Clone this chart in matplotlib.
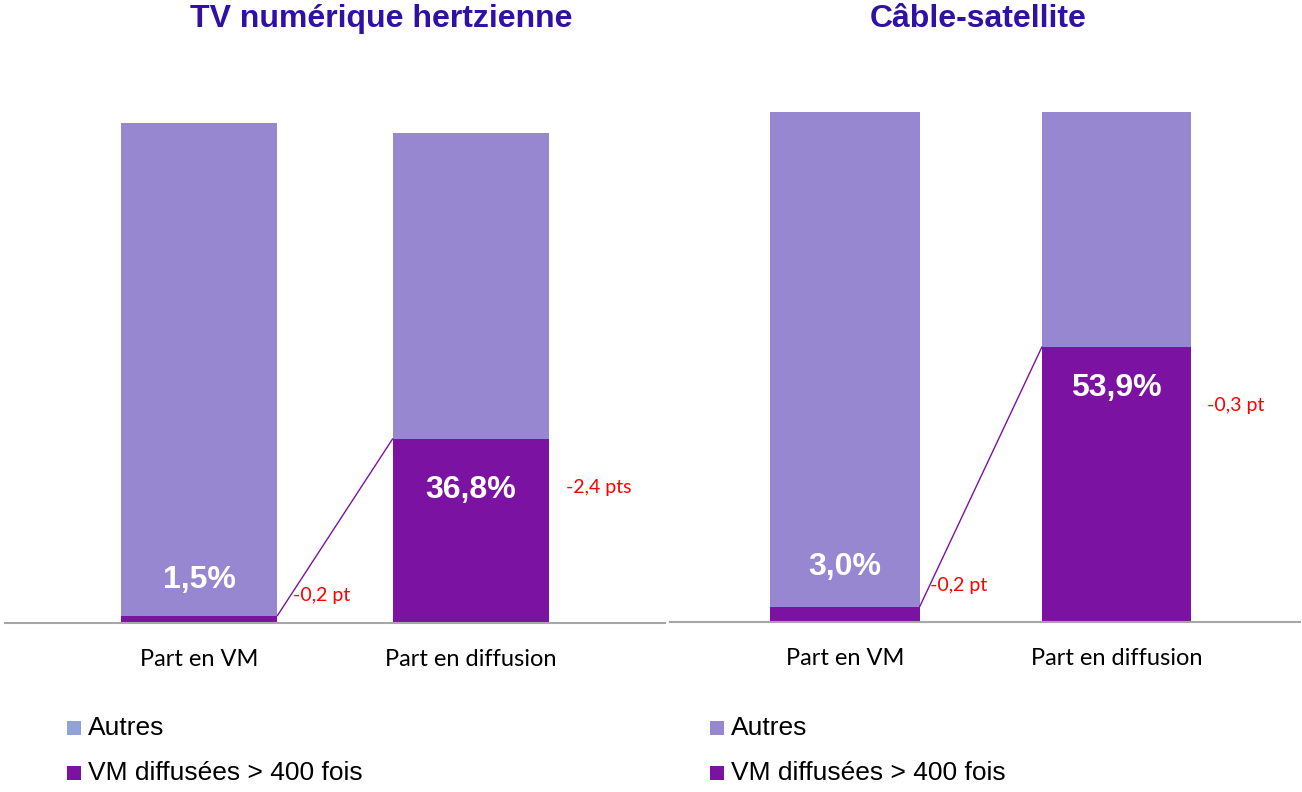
import matplotlib
matplotlib.use("Agg")
import matplotlib.pyplot as plt
from matplotlib.patches import Rectangle

# ---- data ----
categories = ["Part en VM", "Part en diffusion"]
titles = ["TV numérique hertzienne", "Câble-satellite"]
vm_tnt = [1.5, 36.8]
autres_tnt = [98.5, 61.2]
vm_cab = [3.0, 53.9]
autres_cab = [97.0, 46.1]
labels_tnt = ["1,5%", "36,8%"]
labels_cab = ["3,0%", "53,9%"]
evol_tnt = ["-0,2 pt", "-2,4 pts"]
evol_cab = ["-0,2 pt", "-0,3 pt"]
legend_labels = ["Autres", "VM diffusées > 400 fois"]

C_AUTRES = "#9787D1"
C_VM = "#7B12A1"
C_LEG_AUTRES_L = "#8FA3D6"
C_TITLE = "#3011A5"
C_RED = "#FF0000"
C_AXIS = "#A6A6A6"

W, H = 1302, 792
fig = plt.figure(figsize=(W / 100, H / 100), dpi=100)

def fx(px):
    return px / W

def fy(py):
    return 1 - py / H

panels = [
    dict(vm=vm_tnt, autres=autres_tnt, labels=labels_tnt, evol=evol_tnt, title=titles[0],
         x0=199, dx=272, base=623, ppu=5.0, left=5, right=665, width=0.577,
         lab_off=[7.1, -10.2], ev_pos=[(0.346, 5.6), (1.349, 27.2)], title_x=381,
         leg_x=67, leg_c=C_LEG_AUTRES_L),
    dict(vm=vm_cab, autres=autres_cab, labels=labels_cab, evol=evol_cab, title=titles[1],
         x0=845, dx=271.5, base=622, ppu=5.1, left=670, right=1300, width=0.55,
         lab_off=[7.8, -8.0], ev_pos=[(0.313, 7.25), (1.333, 42.4)], title_x=978,
         leg_x=710, leg_c=C_AUTRES),
]

for p in panels:
    top_px = 70
    ax = fig.add_axes([fx(p["left"]), fy(p["base"]), fx(p["right"] - p["left"]),
                       (p["base"] - top_px) / H])
    ax.set_xlim((p["left"] - p["x0"]) / p["dx"], (p["right"] - p["x0"]) / p["dx"])
    ax.set_ylim(0, (p["base"] - top_px) / p["ppu"])
    xs = [0, 1]
    ax.bar(xs, p["vm"], width=p["width"], color=C_VM, zorder=2)
    ax.bar(xs, p["autres"], bottom=p["vm"], width=p["width"], color=C_AUTRES, zorder=2)
    # connector line
    hw = p["width"] / 2
    ax.plot([0 + hw, 1 - hw], [p["vm"][0], p["vm"][1]], color=C_VM, lw=1.0, zorder=3)
    for i in range(2):
        ax.text(xs[i], p["vm"][i] + p["lab_off"][i], p["labels"][i], ha="center", va="center",
                color="white", fontsize=23, fontweight="bold", family="Liberation Sans", zorder=4)
        ex, ey = p["ev_pos"][i]
        ax.text(ex, ey, p["evol"][i], ha="left", va="center", color=C_RED, fontsize=14,
                family="Lato", zorder=4)
    for s in ["top", "right", "left"]:
        ax.spines[s].set_visible(False)
    ax.spines["bottom"].set_color(C_AXIS)
    ax.spines["bottom"].set_linewidth(1.5)
    ax.set_yticks([])
    ax.set_xticks(xs)
    ax.set_xticklabels(categories, fontsize=17, family="Lato", color="black")
    ax.tick_params(axis="x", length=0, pad=18.5)
    ax.patch.set_alpha(0)

    fig.text(fx(p["title_x"]), fy(19), p["title"], ha="center", va="center", fontsize=23,
             fontweight="bold", color=C_TITLE, family="Liberation Sans")

    # legend
    for j, (lab, col) in enumerate(zip(legend_labels, [p["leg_c"], C_VM])):
        cy = 728 + 45 * j
        fig.add_artist(Rectangle((fx(p["leg_x"]), fy(cy + 7)), fx(14), 14 / H,
                                 transform=fig.transFigure, color=col, lw=0))
        fig.text(fx(p["leg_x"] + 21), fy(cy), lab, ha="left", va="center", fontsize=19,
                 family="Liberation Sans", color="black")

fig.savefig("out.png", dpi=100)
